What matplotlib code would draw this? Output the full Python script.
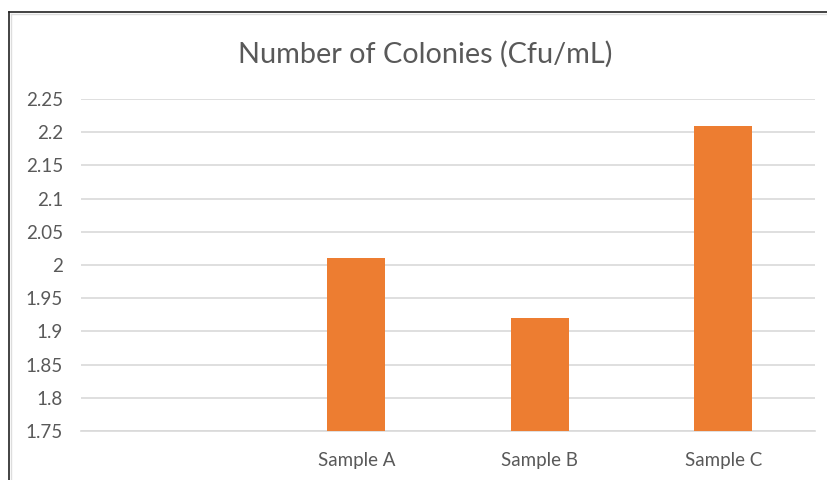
import matplotlib
matplotlib.use("Agg")
import matplotlib.pyplot as plt
from matplotlib.lines import Line2D

# ---- data ----
categories = ["", "Sample A", "Sample B", "Sample C"]
values = [None, 2.01, 1.92, 2.21]
yticks = [1.75, 1.8, 1.85, 1.9, 1.95, 2.0, 2.05, 2.1, 2.15, 2.2, 2.25]
ytick_labels = ["1.75", "1.8", "1.85", "1.9", "1.95", "2", "2.05", "2.1", "2.15", "2.2", "2.25"]

BAR_C = "#ED7D31"
TXT_C = "#595959"
GRID_C = "#D9D9D9"

plt.rcParams["font.family"] = ["Lato", "DejaVu Sans"]

fig = plt.figure(figsize=(8.27, 4.8), dpi=100)
W, H = 827, 480
ax = fig.add_axes([81 / W, 1 - 431 / H, (815 - 81) / W, (431 - 99) / H])

xs = [i for i, v in enumerate(values) if v is not None]
hs = [v for v in values if v is not None]
ax.bar(xs, [h - 1.75 for h in hs], bottom=1.75, width=0.317, color=BAR_C, zorder=3)

ax.set_xlim(-0.5, len(categories) - 0.5)
ax.set_ylim(1.75, 2.25)
ax.set_xticks(range(len(categories)))
ax.set_xticklabels(categories, color=TXT_C, fontsize=13.5)
ax.set_yticks(yticks)
ax.set_yticklabels(ytick_labels, color=TXT_C, fontsize=13.5)
ax.tick_params(axis="both", length=0)
ax.tick_params(axis="y", pad=13)
ax.tick_params(axis="x", pad=15)
ax.grid(axis="y", color=GRID_C, lw=1.2, zorder=0)
for sp in ["top", "right", "left"]:
    ax.spines[sp].set_visible(False)
ax.spines["bottom"].set_color(GRID_C)
ax.spines["bottom"].set_linewidth(1.2)

fig.text(425 / W, 1 - 54 / H, "Number of Colonies (Cfu/mL)", ha="center", va="center",
         fontsize=20.8, color=TXT_C)

# screenshot frame (left and top edges)
fig.add_artist(Line2D([9 / W, 9 / W], [0, 1 - 12 / H], color="#222222", lw=1.2,
                      transform=fig.transFigure))
fig.add_artist(Line2D([9 / W, 1], [1 - 12 / H, 1 - 12 / H], color="#222222", lw=1.2,
                      transform=fig.transFigure))
fig.add_artist(Line2D([11 / W, 11 / W], [0, 1 - 14 / H], color="#DDDDDD", lw=1,
                      transform=fig.transFigure))
fig.add_artist(Line2D([11 / W, 1], [1 - 14 / H, 1 - 14 / H], color="#DDDDDD", lw=1,
                      transform=fig.transFigure))

fig.savefig("out.png", dpi=100)
